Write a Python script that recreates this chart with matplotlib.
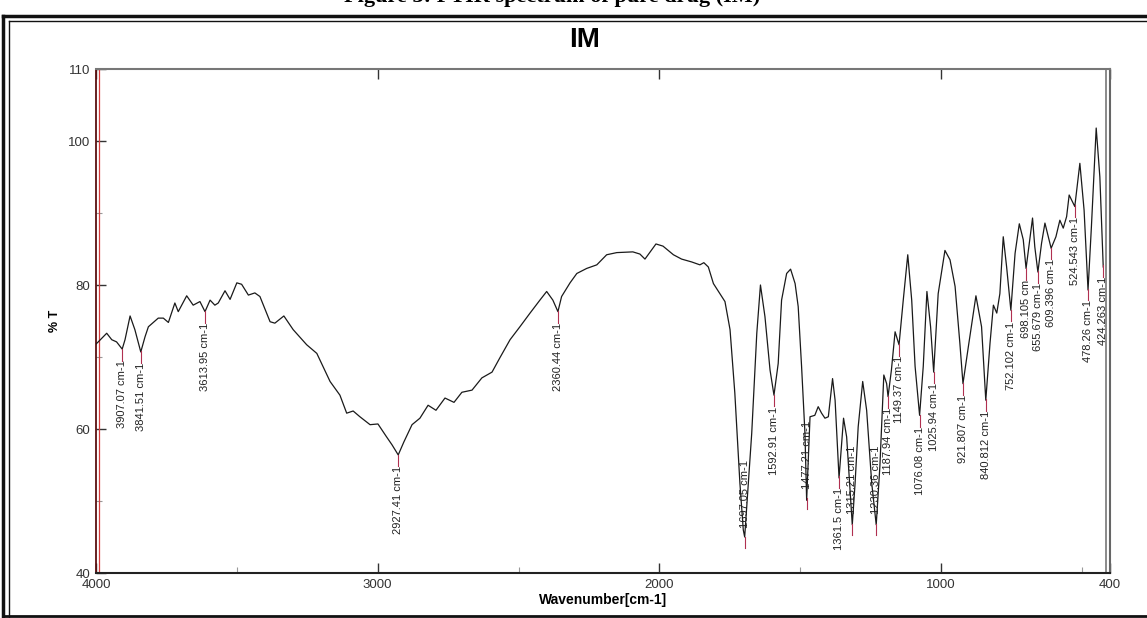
import numpy as np
from matplotlib import pyplot as plt
from matplotlib.lines import Line2D

# ---- spectrum ----
wavenumber = [4000, 3992, 3962, 3944, 3927, 3907, 3897, 3879, 3862, 3841, 3826, 3814,
              3779, 3761, 3743, 3720, 3708, 3678, 3655, 3631, 3613, 3595, 3578, 3566,
              3542, 3524, 3500, 3483, 3459, 3436, 3418, 3382, 3365, 3333, 3300, 3252,
              3216, 3169, 3134, 3110, 3087, 3063, 3027, 2999, 2970, 2949, 2927, 2907,
              2878, 2850, 2821, 2793, 2761, 2729, 2701, 2665, 2630, 2594, 2566, 2530,
              2495, 2459, 2424, 2400, 2378, 2360, 2347, 2317, 2293, 2258, 2222, 2187,
              2151, 2094, 2069, 2051, 2027, 2012, 1987, 1950, 1921, 1885, 1856, 1842,
              1826, 1808, 1785, 1767, 1749, 1732, 1714, 1702, 1697, 1684, 1672, 1654,
              1641, 1625, 1607, 1593, 1578, 1566, 1548, 1534, 1518, 1507, 1495, 1483,
              1477, 1465, 1448, 1436, 1424, 1412, 1400, 1385, 1376, 1362, 1346, 1335,
              1315, 1305, 1294, 1278, 1264, 1246, 1230, 1217, 1203, 1193, 1188, 1176,
              1163, 1149, 1134, 1118, 1104, 1092, 1076, 1063, 1050, 1037, 1026, 1010,
              986, 968, 950, 933, 922, 903, 876, 856, 841, 826, 814, 802,
              791, 779, 767, 752, 737, 722, 708, 698, 675, 667, 656, 643,
              631, 619, 609, 592, 578, 566, 554, 545, 525, 507, 492, 478,
              466, 449, 436, 424]
transmittance = [71.8, 72.1, 73.3, 72.4, 72.1, 71.1, 72.4, 75.7, 73.8, 70.7, 72.8, 74.2,
                 75.4, 75.4, 74.8, 77.5, 76.3, 78.5, 77.2, 77.7, 76.3, 77.9, 77.2, 77.5,
                 79.2, 78.0, 80.3, 80.1, 78.6, 78.9, 78.4, 74.9, 74.7, 75.7, 73.8, 71.7,
                 70.5, 66.6, 64.7, 62.2, 62.5, 61.7, 60.6, 60.7, 59.0, 57.8, 56.4, 58.2,
                 60.6, 61.5, 63.3, 62.6, 64.3, 63.7, 65.1, 65.4, 67.1, 67.9, 69.9, 72.4,
                 74.2, 76.1, 77.9, 79.1, 77.9, 76.3, 78.4, 80.3, 81.6, 82.3, 82.8, 84.2,
                 84.5, 84.6, 84.3, 83.6, 84.9, 85.7, 85.4, 84.2, 83.6, 83.2, 82.8, 83.1,
                 82.5, 80.2, 78.8, 77.7, 73.8, 65.0, 52.5, 46.0, 45.0, 52.5, 59.4, 73.3,
                 80.0, 75.6, 68.2, 64.7, 69.1, 77.9, 81.6, 82.2, 80.2, 77.0, 68.7, 59.4,
                 50.1, 61.7, 61.9, 63.1, 62.2, 61.5, 61.7, 67.0, 64.0, 53.2, 61.5, 58.9,
                 46.7, 52.5, 60.3, 66.6, 62.6, 52.5, 46.7, 54.8, 67.5, 66.3, 64.5, 68.2,
                 73.5, 71.7, 77.9, 84.2, 77.9, 68.7, 61.9, 68.7, 79.1, 74.2, 67.9, 78.8,
                 84.8, 83.5, 79.8, 71.9, 66.3, 71.4, 78.5, 74.2, 64.0, 71.9, 77.2, 76.1,
                 78.8, 86.7, 82.5, 76.5, 84.4, 88.5, 86.3, 82.3, 89.3, 85.3, 81.8, 85.8,
                 88.6, 86.7, 85.1, 86.7, 89.0, 87.9, 89.5, 92.5, 90.9, 96.9, 90.4, 79.3,
                 88.1, 101.8, 95.0, 82.5]

# picked peaks
peak_wn = [3907.07, 3841.51, 3613.95, 2927.41, 2360.44, 1697.05, 1592.91, 1477.21,
           1361.5, 1315.21, 1230.36, 1187.94, 1149.37, 1076.08, 1025.94, 921.807,
           840.812, 752.102, 698.105, 655.679, 609.396, 524.543, 478.26, 424.263]
peak_labels = ["3907.07 cm-1", "3841.51 cm-1", "3613.95 cm-1", "2927.41 cm-1",
               "2360.44 cm-1", "1697.05 cm-1", "1592.91 cm-1", "1477.21 cm-1",
               "1361.5 cm-1", "1315.21 cm-1", "1230.36 cm-1", "1187.94 cm-1",
               "1149.37 cm-1", "1076.08 cm-1", "1025.94 cm-1", "921.807 cm-1",
               "840.812 cm-1", "752.102 cm-1", "698.105 cm", "655.679 cm-1",
               "609.396 cm-1", "524.543 cm-1", "478.26 cm-1", "424.263 cm-1"]

x_major = [4000, 3000, 2000, 1000, 400]
x_minor = [3500, 2500, 1500, 500]
y_major = [40, 60, 80, 100, 110]
y_minor = [50, 70, 90]

plt.rcParams['font.family'] = ['Liberation Sans', 'DejaVu Sans']

W, H = 1147, 618
fig = plt.figure(figsize=(W / 100, H / 100), dpi=100)
ax = fig.add_axes([96 / W, 45 / H, 1014 / W, 504 / H])

ax.plot(wavenumber, transmittance, color='#1a1a1a', lw=0.9, zorder=3)
ax.set_xlim(4000, 400)
ax.set_ylim(40, 110)

# the red marker line near the left edge and the double line on the right
ax.axvline(3988, color='#d83c3c', lw=0.9, zorder=2)
ax.axvline(415, color='#777777', lw=1.2, zorder=2)

ax.set_xticks(x_major)
ax.set_xticks(x_minor, minor=True)
ax.set_yticks(y_major)
ax.set_yticks(y_minor, minor=True)
ax.tick_params(which='major', direction='in', length=7, width=1, top=True,
               color='#333333', labelcolor='#333333', labelsize=9.5, pad=4)
ax.tick_params(which='minor', direction='in', length=4, width=0.8, top=False,
               color='#999999')
ax.tick_params(axis='y', which='both', right=False)

ax.spines['left'].set_color('#5a1010')
ax.spines['left'].set_linewidth(1.3)
ax.spines['bottom'].set_color('#222222')
ax.spines['bottom'].set_linewidth(1.5)
ax.spines['top'].set_color('#777777')
ax.spines['top'].set_linewidth(1.5)
ax.spines['right'].set_color('#666666')
ax.spines['right'].set_linewidth(1.5)

ax.set_xlabel("Wavenumber[cm-1]", fontsize=10, fontweight='bold', labelpad=2)
ax.set_ylabel("% T", fontsize=9, fontweight='bold', labelpad=5)

# peak annotations
wn_inc = np.array(wavenumber[::-1], dtype=float)
t_inc = np.array(transmittance[::-1], dtype=float)
red = '#b03050'
for w, lab in zip(peak_wn, peak_labels):
    t = float(np.interp(w, wn_inc, t_inc))
    if t - 11 < 41:
        # deep band: label sits above the minimum
        ax.plot([w, w], [t - 1.6, t], color=red, lw=0.8, zorder=4)
        ax.text(w, t + 1.3, lab, rotation=90, ha='center', va='bottom',
                fontsize=8, color='#222222', zorder=5)
    else:
        ax.plot([w, w], [t, t - 1.6], color=red, lw=0.8, zorder=4)
        ax.text(w, t - 1.6, lab, rotation=90, ha='center', va='top',
                fontsize=8, color='#222222', zorder=5)

fig.text(585 / W, 1 - 40 / H, "IM", fontsize=20, fontweight='bold',
         ha='center', va='center')

# caption cut off by the top edge
fig.text(552 / W, 1 - 2 / H, "Figure 3: FTIR spectrum of pure drug (IM)",
         family='Liberation Serif', fontweight='bold', fontsize=16,
         ha='center', va='baseline')

# double frame around the chart
frame = [((3, 1150), (16, 16), 2.5), ((9, 1150), (21, 21), 1.0),
         ((3, 3), (16, 618), 2.5), ((9, 9), (21, 618), 1.0),
         ((3, 1150), (616, 616), 2.0)]
for xs, ys, lw in frame:
    fig.add_artist(Line2D([x / W for x in xs], [1 - y / H for y in ys],
                          transform=fig.transFigure, color='#111111', lw=lw))

fig.savefig("out.png", dpi=100)
